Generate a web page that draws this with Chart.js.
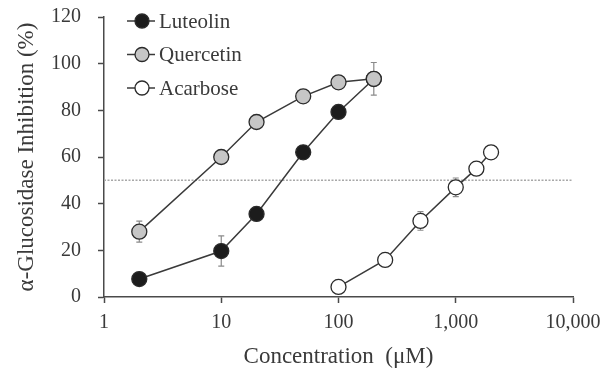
<!DOCTYPE html>
<html>
<head>
<meta charset="utf-8">
<script src="https://cdn.jsdelivr.net/npm/chart.js@4/dist/chart.umd.min.js"></script>
<style>
  html, body { margin: 0; padding: 0; background: #fff; }
  #wrap { width: 610px; height: 371px; }
</style>
</head>
<body>
<div id="wrap"><canvas id="chart" width="610" height="371"></canvas></div>
<script>
// ===== Data =====
const luteolinConc = [2, 10, 20, 50, 100, 200];
const luteolinInh = [7.7, 19.7, 35.6, 62, 79.3, 93.4];
const luteolinErr = [1, 6.5, 1.5, 1.5, 1.5, 2];

const quercetinConc = [2, 10, 20, 50, 100, 200];
const quercetinInh = [28, 60, 75, 86, 92, 93.5];
const quercetinErr = [4.5, 1, 1.5, 1, 1, 7];

const acarboseConc = [100, 250, 500, 1000, 1500, 2000];
const acarboseInh = [4.3, 15.9, 32.6, 47, 55, 62];
const acarboseErr = [1, 1.5, 4, 4, 2, 1];

const refConc = [1, 10000];
const refInh = [50, 50];

const xTicks = [1, 10, 100, 1000, 10000];
const yTicks = [0, 20, 40, 60, 80, 100, 120];

const SERIF = '"Liberation Serif", "Times New Roman", serif';
const INK = '#3a3a3a';

const pts = (xs, ys) => xs.map((x, i) => ({ x, y: ys[i] }));

// error bars, drawn under the lines and markers
const errorBars = {
  id: 'errorBars',
  beforeDatasetsDraw(chart) {
    const { ctx, scales: { x, y } } = chart;
    ctx.save();
    ctx.strokeStyle = '#8a8a8a';
    ctx.lineWidth = 1.2;
    chart.data.datasets.forEach(ds => {
      if (!ds.errors) return;
      ds.data.forEach((p, i) => {
        const e = ds.errors[i];
        const px = x.getPixelForValue(p.x);
        const top = y.getPixelForValue(p.y + e);
        const bot = y.getPixelForValue(p.y - e);
        ctx.beginPath();
        ctx.moveTo(px, top); ctx.lineTo(px, bot);
        ctx.moveTo(px - 3, top); ctx.lineTo(px + 3, top);
        ctx.moveTo(px - 3, bot); ctx.lineTo(px + 3, bot);
        ctx.stroke();
      });
    });
    ctx.restore();
  }
};

// legend in the upper left corner, line + marker sample
const cornerLegend = {
  id: 'cornerLegend',
  afterDraw(chart) {
    const { ctx, chartArea } = chart;
    const items = chart.data.datasets.filter(ds => !ds.noLegend);
    ctx.save();
    ctx.font = '21px ' + SERIF;
    ctx.textBaseline = 'middle';
    items.forEach((ds, i) => {
      const cy = chartArea.top + 4 + i * 33.5;
      const x0 = chartArea.left + 23;
      ctx.strokeStyle = INK;
      ctx.lineWidth = 1.5;
      ctx.beginPath();
      ctx.moveTo(x0, cy); ctx.lineTo(x0 + 28, cy);
      ctx.stroke();
      ctx.beginPath();
      ctx.arc(x0 + 15, cy, 7, 0, Math.PI * 2);
      ctx.fillStyle = ds.pointBackgroundColor;
      ctx.fill();
      ctx.lineWidth = 1.3;
      ctx.strokeStyle = ds.pointBorderColor;
      ctx.stroke();
      ctx.fillStyle = INK;
      ctx.fillText(ds.label, x0 + 32, cy + 1);
    });
    ctx.restore();
  }
};

function series(label, xs, ys, errs, fill, order) {
  return {
    label,
    data: pts(xs, ys),
    errors: errs,
    borderColor: INK,
    borderWidth: 1.5,
    pointRadius: 7.5,
    pointHoverRadius: 7.5,
    pointBackgroundColor: fill,
    pointBorderColor: '#2a2a2a',
    pointBorderWidth: 1.3,
    tension: 0,
    order
  };
}

new Chart(document.getElementById('chart'), {
  type: 'line',
  data: {
    datasets: [
      series('Luteolin', luteolinConc, luteolinInh, luteolinErr, '#1c1c1c', 2),
      series('Quercetin', quercetinConc, quercetinInh, quercetinErr, '#c6c6c6', 1),
      series('Acarbose', acarboseConc, acarboseInh, acarboseErr, '#ffffff', 3),
      {
        label: 'IC50',
        noLegend: true,
        data: pts(refConc, refInh),
        borderColor: '#a8a8a8',
        borderWidth: 1.5,
        borderDash: [2, 1.5],
        pointRadius: 0,
        order: 4
      }
    ]
  },
  options: {
    responsive: false,
    animation: false,
    events: [],
    layout: { padding: { top: 17, right: 37, left: 0, bottom: 0 } },
    plugins: { legend: { display: false }, tooltip: { enabled: false } },
    scales: {
      x: {
        type: 'logarithmic',
        min: 1,
        max: 10000,
        afterBuildTicks: s => { s.ticks = xTicks.map(v => ({ value: v })); },
        afterFit: s => { s.height = 74; },
        border: { display: true, color: '#4a4a4a', width: 1.5 },
        grid: { drawOnChartArea: false, tickLength: 6, color: '#4a4a4a', tickWidth: 1.5 },
        ticks: {
          autoSkip: false,
          maxRotation: 0,
          padding: 8,
          color: INK,
          font: { family: SERIF, size: 20 },
          callback: v => Number(v).toLocaleString('en-US')
        },
        title: {
          display: true,
          text: 'Concentration  (μM)',
          color: INK,
          font: { family: SERIF, size: 23 },
          padding: { top: 0, bottom: 0 }
        }
      },
      y: {
        min: 0,
        max: 120,
        afterBuildTicks: s => { s.ticks = yTicks.map(v => ({ value: v })); },
        afterFit: s => { s.width = 104; s.paddingTop = 0; s.paddingBottom = 0; },
        border: { display: true, color: '#4a4a4a', width: 1.5 },
        grid: { drawOnChartArea: false, tickLength: 6, color: '#4a4a4a', tickWidth: 1.5 },
        ticks: {
          padding: 17,
          color: INK,
          font: { family: SERIF, size: 20 }
        },
        title: {
          display: true,
          text: 'α-Glucosidase Inhibition (%)',
          color: INK,
          font: { family: SERIF, size: 23 },
          padding: { top: 13, bottom: 0 }
        }
      }
    }
  },
  plugins: [errorBars, cornerLegend]
});
</script>
</body>
</html>
